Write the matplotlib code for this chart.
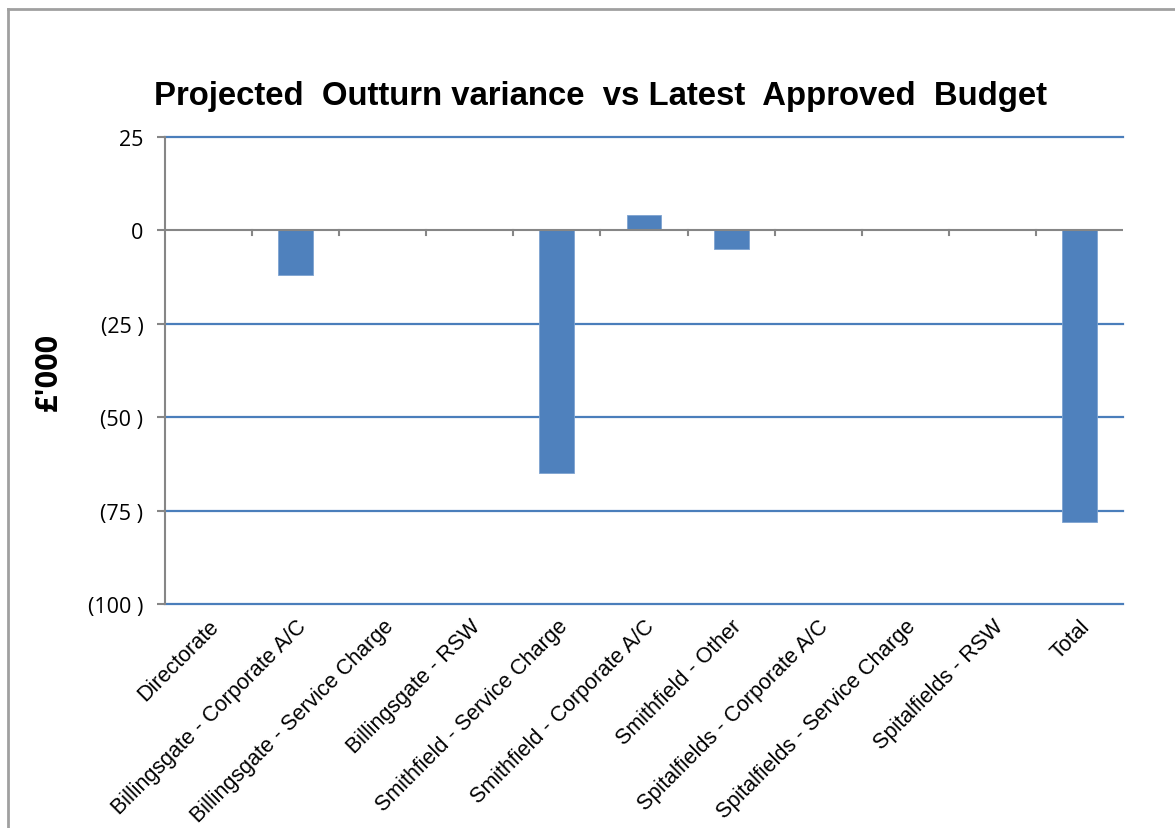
import numpy as np
import matplotlib.pyplot as plt
from matplotlib.lines import Line2D

categories = ['Directorate', 'Billingsgate - Corporate A/C', 'Billingsgate - Service Charge',
              'Billingsgate - RSW', 'Smithfield - Service Charge', 'Smithfield - Corporate A/C',
              'Smithfield - Other', 'Spitalfields - Corporate A/C', 'Spitalfields - Service Charge',
              'Spitalfields - RSW', 'Total']
variance = [0, -12, 0, 0, -65, 4, -5, 0, 0, 0, -78]
yticks = [25, 0, -25, -50, -75, -100]
ytick_labels = ['25', '0', '(25 )', '(50 )', '(75 )', '(100 )']

blue = '#4f81bd'
grid_blue = '#4a7ebb'
axis_grey = '#868686'

fig = plt.figure(figsize=(11.75, 8.29), dpi=100)
ax = fig.add_axes([165 / 1175, 1 - 605 / 829, (1123 - 165) / 1175, (605 - 138) / 829])

x = np.arange(len(categories))
ax.bar(x, variance, width=0.4, color=blue, edgecolor='#7ea3d0', linewidth=0.6, zorder=3)

ax.set_xlim(-0.5, len(categories) - 0.5)
ax.set_ylim(-100, 25)
ax.set_yticks(yticks)
ax.set_yticklabels(ytick_labels, fontsize=15.5, family=['Open Sans', 'DejaVu Sans'])
for y in yticks:
    if y != 0:
        ax.axhline(y, color=grid_blue, lw=1.6, zorder=1, clip_on=False)

# zero axis with category-boundary ticks
ax.axhline(0, color=axis_grey, lw=1.5, zorder=4)
for b in np.arange(0.5, len(categories) - 0.5, 1.0):
    ax.plot([b, b], [0, -1.3], color=axis_grey, lw=1.5, zorder=4, clip_on=False)

for s in ['top', 'right', 'bottom']:
    ax.spines[s].set_visible(False)
ax.spines['left'].set_color(axis_grey)
ax.spines['left'].set_linewidth(1.5)
ax.spines['left'].set_zorder(5)
ax.tick_params(axis='y', color=axis_grey, width=1.5, length=5.5, pad=10)

ax.set_xticks(x)
ax.set_xticklabels(categories, rotation=45, ha='right', rotation_mode='anchor',
                   fontsize=15.5, family='Liberation Sans')
ax.tick_params(axis='x', length=0, pad=8)

ax.set_ylabel("£'000", fontsize=22, fontweight='bold', family=['Open Sans', 'DejaVu Sans'])
ax.yaxis.set_label_coords(-0.106, 0.5)

fig.text(600 / 1175, 1 - 97 / 829, 'Projected  Outturn variance  vs Latest  Approved  Budget',
         ha='center', va='center', fontsize=23.7, fontweight='bold', family='Liberation Sans')

# outer chart frame
fig.add_artist(Line2D([8 / 1175, 8 / 1175], [0, 1 - 10 / 829], color='#a0a0a0', lw=2.0,
                      transform=fig.transFigure))
fig.add_artist(Line2D([8 / 1175, 1], [1 - 10 / 829, 1 - 10 / 829], color='#a0a0a0', lw=2.0,
                      transform=fig.transFigure))

fig.savefig('out.png', dpi=100)
